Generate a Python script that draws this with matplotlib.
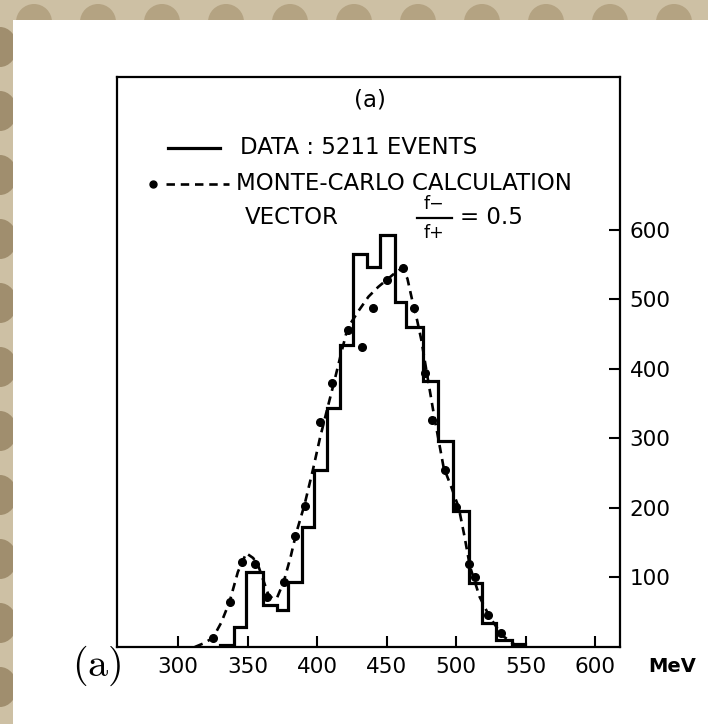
import matplotlib
matplotlib.use("Agg")
import matplotlib.pyplot as plt
from matplotlib.patches import Rectangle, Ellipse
from matplotlib.lines import Line2D

W, H = 708, 724

# histogram: bin edges (MeV) and counts per bin
edges = [330, 340, 349, 361, 371, 379, 389, 398, 407, 416.5, 426, 436, 445,
         456, 464, 476.5, 487, 497.5, 509, 518.5, 529, 540, 549.5]
counts = [3, 29, 108, 60, 53, 94, 173, 255, 344, 434, 566, 547, 593,
          497, 461, 382, 296, 195, 92, 34, 10, 5]

# monte-carlo curve (dashed)
mc_e = [312, 318, 325, 331, 337, 343, 349, 354, 358, 362, 365, 368, 371,
        376, 381, 385, 391, 397, 402, 407, 412, 417, 422, 430, 437, 444,
        450, 456, 461, 465, 469, 472, 475, 479, 484, 491, 497, 502, 506,
        510, 517, 524, 533, 541, 546]
mc_n = [0, 5, 13, 35, 65, 108, 135, 128, 115, 92, 75, 70, 70,
        94, 130, 164, 205, 255, 300, 340, 379, 420, 459, 484, 504, 518,
        528, 538, 545, 530, 494, 470, 442, 394, 335, 259, 228, 200, 160,
        116, 72, 44, 17, 5, 0]

# monte-carlo points
dot_e = [325, 337, 346, 355, 364, 376, 384, 391, 402, 411, 422, 432, 440,
         450, 462, 470, 478, 483, 492, 500, 509, 514, 523, 532]
dot_n = [13, 65, 123, 120, 72, 94, 159, 203, 324, 380, 456, 432, 487,
         528, 545, 487, 394, 327, 255, 202, 120, 101, 46, 20]

xticks = [300, 350, 400, 450, 500, 550, 600]
yticks = [100, 200, 300, 400, 500, 600]


def fpos(x, y):
    # pixel position in the picture -> figure fraction
    return x / W, 1 - y / H


def fig_line(xs, ys, **kw):
    fig.add_artist(Line2D([x / W for x in xs], [1 - y / H for y in ys],
                          transform=fig.transFigure, color="black", zorder=6, **kw))


plt.rcParams["mathtext.fontset"] = "cm"

fig = plt.figure(figsize=(W / 100, H / 100), dpi=100)
fig.patch.set_facecolor("#cdc0a4")

# scalloped beige frame
for cx in range(34, W + 40, 64):
    fig.patches.append(Ellipse(fpos(cx, 22), 36 / W, 36 / H, transform=fig.transFigure,
                               facecolor="#b4a382", edgecolor="none", zorder=0))
for cy in range(47, H + 40, 64):
    fig.patches.append(Ellipse(fpos(0, cy), 34 / W, 40 / H, transform=fig.transFigure,
                               facecolor="#a08e6e", edgecolor="none", zorder=0))
fig.patches.append(Rectangle(fpos(13, H), 1, 1 - 20 / H, transform=fig.transFigure,
                             facecolor="white", edgecolor="none", zorder=1))

ax = fig.add_axes([117 / W, 1 - 647 / H, 503 / W, 570 / H])
ax.set_zorder(2)
ax.set_facecolor("white")

ax.stairs(counts, edges, baseline=0, color="black", lw=2.3)
ax.plot(mc_e, mc_n, color="black", lw=1.9, ls=(0, (3.2, 2.2)))
ax.plot(dot_e, dot_n, "o", color="black", ms=5.5)

ax.set_xlim(256, 618)
ax.set_ylim(0, 820)

for s in ax.spines.values():
    s.set_linewidth(1.6)

ax.set_xticks(xticks)
ax.set_xticklabels([str(t) for t in xticks])
ax.yaxis.tick_right()
ax.set_yticks(yticks)
ax.set_yticklabels([str(t) for t in yticks])
ax.tick_params(axis="both", direction="in", length=8, width=1.5, labelsize=15.5,
               colors="black")
ax.tick_params(axis="x", pad=7)
ax.tick_params(axis="y", pad=7)

txt = dict(color="black", family="DejaVu Sans", fontsize=16.5, va="center", zorder=6)

fig.text(*fpos(672, 667), "MeV", fontsize=14, fontweight="bold", ha="center",
         va="center", zorder=6)
fig.text(*fpos(370, 100), "(a)", ha="center", **txt)

# legend drawn by hand
fig_line([168, 220], [148, 148], lw=2.3)
fig.text(*fpos(240, 148), "DATA : 5211 EVENTS", ha="left", **txt)
fig_line([153], [184], marker="o", ms=5)
fig_line([166, 229], [184, 184], lw=1.9, ls=(0, (3.2, 2.2)))
fig.text(*fpos(236, 184), "MONTE-CARLO CALCULATION", ha="left", **txt)
fig.text(*fpos(245, 217), "VECTOR", ha="left", **txt)
fig.text(*fpos(434, 204), "f\u2212", ha="center", color="black", fontsize=12.5,
         va="center", zorder=6)
fig_line([417, 452], [218, 218], lw=1.6)
fig.text(*fpos(434, 233), "f+", ha="center", color="black", fontsize=12.5,
         va="center", zorder=6)
fig.text(*fpos(460, 217), "= 0.5", ha="left", **txt)

fig.text(*fpos(97, 666), r"$\mathrm{(a)}$", ha="center", va="center", fontsize=29,
         color="black", zorder=6)

fig.savefig("out.png", dpi=100, facecolor=fig.get_facecolor())
